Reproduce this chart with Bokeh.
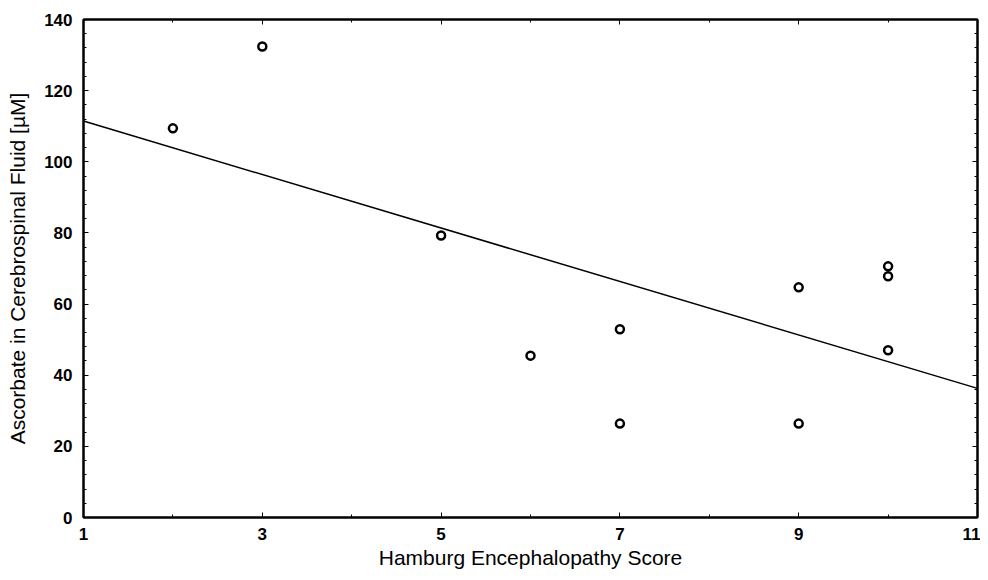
import numpy as np
from bokeh.plotting import figure
from bokeh.models import LinearAxis, FixedTicker, Range1d
from bokeh.embed import file_html
from bokeh.resources import INLINE

# Data
hes_score = [2, 3, 5, 6, 7, 7, 9, 9, 10, 10, 10]
ascorbate = [109.4, 132.4, 79.3, 45.5, 52.9, 26.4, 64.7, 26.4, 70.6, 67.8, 47.0]
x_ticks = [1, 3, 5, 7, 9, 11]
x_minor = [2, 4, 6, 8, 10]
y_ticks = [0, 20, 40, 60, 80, 100, 120, 140]
y_minor = [v for v in range(0, 141, 4) if v % 20 != 0]

# Regression line from the data
slope, intercept = np.polyfit(hes_score, ascorbate, 1)
line_x = [1, 11]
line_y = [intercept + slope * v for v in line_x]

p = figure(width=980, height=571, output_backend="svg", toolbar_location=None,
           x_range=Range1d(1, 11), y_range=Range1d(0, 140),
           min_border_left=83, min_border_right=3, min_border_top=19, min_border_bottom=54)

p.outline_line_color = "black"
p.outline_line_width = 2
p.grid.visible = False
p.background_fill_color = "white"

font = "Liberation Sans"

for ax in p.xaxis:
    ax.ticker = FixedTicker(ticks=x_ticks, minor_ticks=x_minor)
    ax.axis_label = "Hamburg Encephalopathy Score"
for ax in p.yaxis:
    ax.ticker = FixedTicker(ticks=y_ticks, minor_ticks=y_minor)
    ax.axis_label = "Ascorbate in Cerebrospinal Fluid [µM]"

for ax in list(p.xaxis) + list(p.yaxis):
    ax.axis_line_color = "black"
    ax.axis_line_width = 2
    ax.major_tick_in = 5
    ax.major_tick_out = 0
    ax.minor_tick_in = 3
    ax.minor_tick_out = 0
    ax.major_tick_line_color = "black"
    ax.minor_tick_line_color = "black"
    ax.major_label_text_font = font
    ax.major_label_text_font_style = "bold"
    ax.major_label_text_font_size = "17px"
    ax.major_label_text_color = "black"
    ax.axis_label_text_font = font
    ax.axis_label_text_font_style = "normal"
    ax.axis_label_text_color = "black"
    ax.axis_label_text_font_size = "21px"

p.xaxis.major_label_standoff = 10
p.xaxis.axis_label_standoff = 3
p.yaxis.major_label_standoff = 11
p.yaxis.axis_label_standoff = 12

# Top and right axes with inward ticks, no labels
top = LinearAxis(ticker=FixedTicker(ticks=x_ticks, minor_ticks=x_minor),
                 major_label_overrides={t: "" for t in x_ticks})
right = LinearAxis(ticker=FixedTicker(ticks=y_ticks, minor_ticks=y_minor),
                   major_label_overrides={t: "" for t in y_ticks})
for ax in (top, right):
    ax.major_label_text_font_size = "1px"
    ax.major_label_standoff = 0
    ax.axis_line_color = "black"
    ax.axis_line_width = 2
    ax.major_tick_in = 5
    ax.major_tick_out = 0
    ax.minor_tick_in = 3
    ax.minor_tick_out = 0
p.add_layout(top, "above")
p.add_layout(right, "right")

p.line(line_x, line_y, line_color="black", line_width=1.5)
p.scatter(hes_score, ascorbate, marker="circle", size=8, fill_color="white",
          line_color="black", line_width=2.5)

open("out.html", "w").write(file_html(p, INLINE))
